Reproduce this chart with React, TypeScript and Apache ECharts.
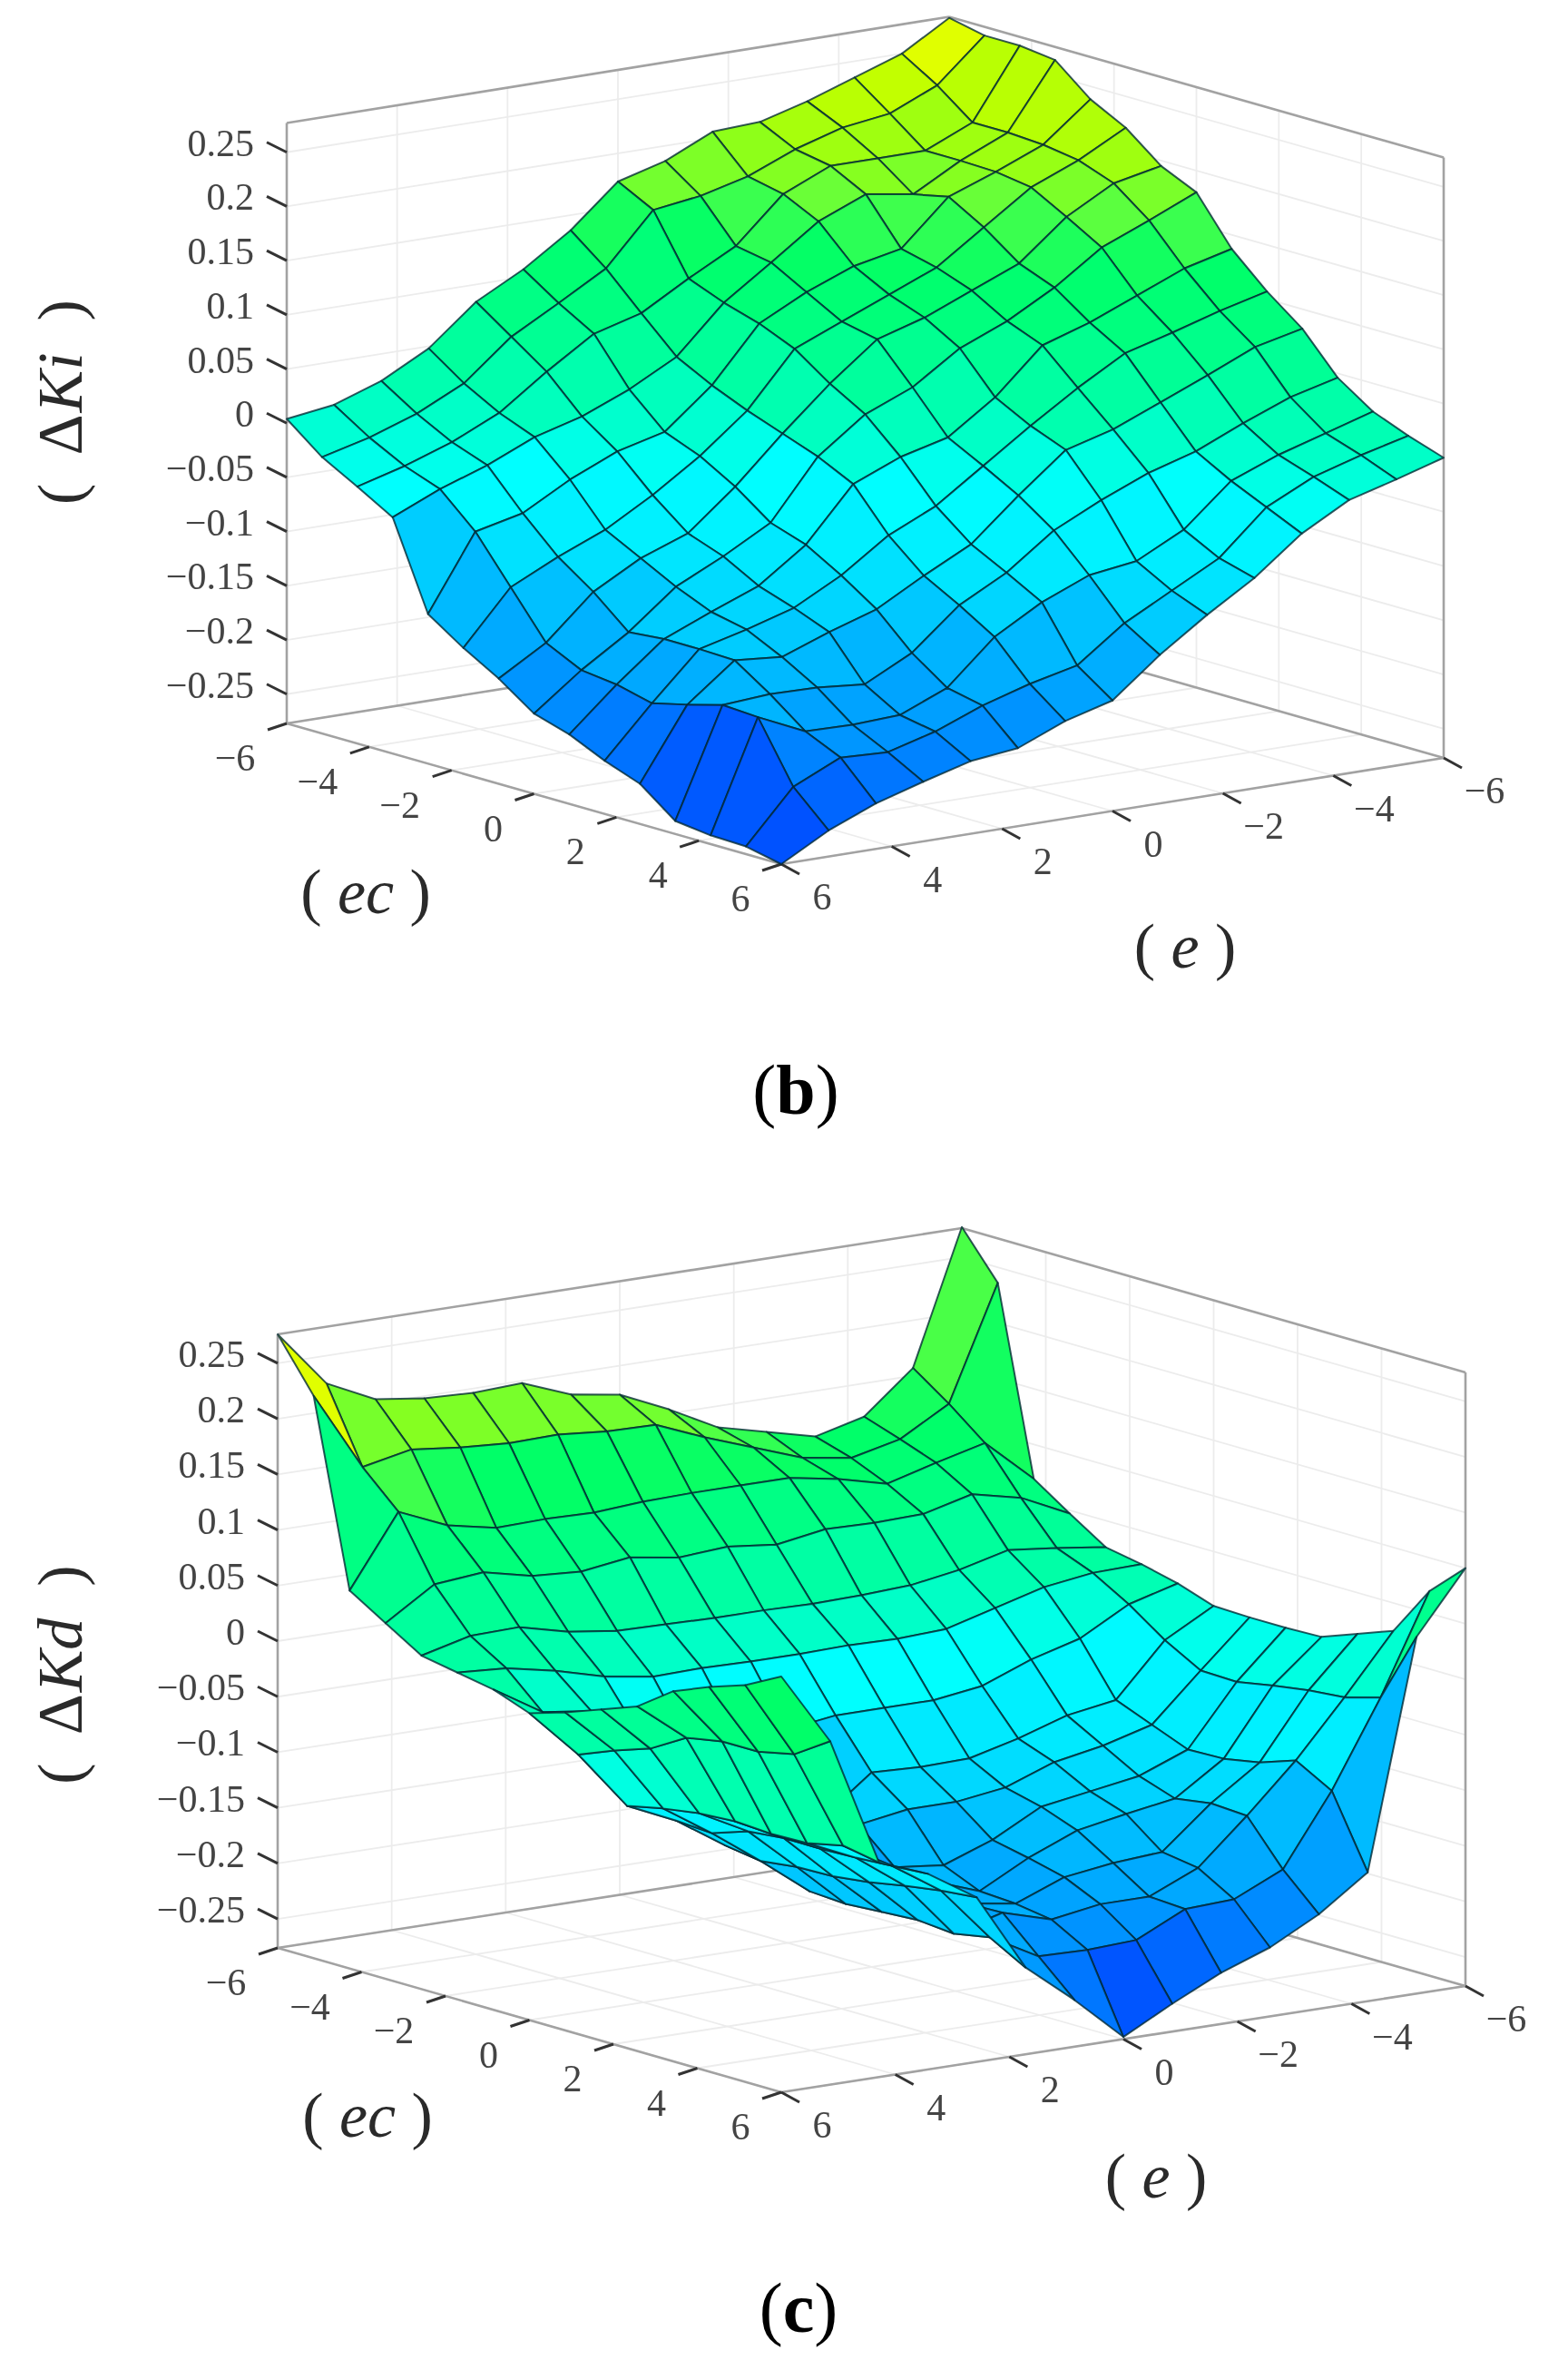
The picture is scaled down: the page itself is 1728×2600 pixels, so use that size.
import React, { useEffect, useRef } from "react";
import * as echarts from "echarts";

const GRID_SIZE = 15;
const AXIS_TICKS = [-6, -4, -2, 0, 2, 4, 6];
const Z_TICKS = [-0.25, -0.2, -0.15, -0.1, -0.05, 0, 0.05, 0.1, 0.15, 0.2, 0.25];

// Delta Ki, one line per e step (e = 6 ... -6), values along ec = -6 ... 6
const kiByE = [
  [0.004, -0.022, -0.04, -0.059, -0.139, -0.161, -0.18, -0.203, -0.213, -0.228, -0.24, -0.265, -0.269, -0.27, -0.277],
  [0.01, -0.011, -0.028, -0.04, -0.07, -0.112, -0.154, -0.17, -0.174, -0.182, -0.174, -0.165, -0.167, -0.222, -0.253],
  [0.025, 0.004, -0.013, -0.025, -0.06, -0.091, -0.114, -0.142, -0.139, -0.139, -0.14, -0.162, -0.187, -0.202, -0.235],
  [0.048, 0.025, 0.007, -0.006, -0.036, -0.073, -0.09, -0.107, -0.121, -0.128, -0.144, -0.163, -0.188, -0.204, -0.222],
  [0.084, 0.061, 0.038, 0.006, -0.017, -0.048, -0.074, -0.086, -0.104, -0.115, -0.128, -0.167, -0.186, -0.192, -0.21],
  [0.107, 0.085, 0.066, 0.024, -0.006, -0.019, -0.038, -0.062, -0.073, -0.092, -0.114, -0.145, -0.168, -0.175, -0.205],
  [0.136, 0.11, 0.078, 0.047, 0.03, 0.016, 0.004, -0.008, -0.024, -0.062, -0.09, -0.108, -0.128, -0.162, -0.187],
  [0.174, 0.157, 0.103, 0.09, 0.08, 0.066, 0.043, 0.024, -0.006, -0.042, -0.068, -0.085, -0.103, -0.152, -0.175],
  [0.186, 0.163, 0.126, 0.12, 0.102, 0.084, 0.077, 0.042, 0.005, -0.012, -0.03, -0.053, -0.085, -0.12, -0.14],
  [0.206, 0.174, 0.167, 0.151, 0.119, 0.102, 0.09, 0.071, 0.035, 0.018, 0.005, -0.032, -0.079, -0.097, -0.11],
  [0.208, 0.192, 0.186, 0.169, 0.128, 0.12, 0.108, 0.089, 0.076, 0.046, 0.017, -0.014, -0.057, -0.074, -0.083],
  [0.22, 0.205, 0.186, 0.162, 0.169, 0.15, 0.126, 0.113, 0.09, 0.071, 0.035, -0.001, -0.019, -0.034, -0.049],
  [0.235, 0.211, 0.186, 0.186, 0.185, 0.18, 0.162, 0.143, 0.108, 0.083, 0.053, 0.018, -0.002, -0.013, -0.025],
  [0.25, 0.23, 0.205, 0.205, 0.203, 0.198, 0.186, 0.161, 0.126, 0.096, 0.072, 0.035, 0.011, 0, -0.013],
  [0.276, 0.269, 0.269, 0.265, 0.238, 0.221, 0.195, 0.18, 0.137, 0.107, 0.082, 0.046, 0.024, 0.011, 0],
];

// Delta Kd, one line per ec step (ec = -6 ... 6), values along e = 6 ... -6
const kdByEc = [
  [0.276, 0.225, 0.204, 0.198, 0.196, 0.198, 0.181, 0.174, 0.154, 0.131, 0.12, 0.109, 0.12, 0.157, 0.277],
  [0.23, 0.159, 0.168, 0.163, 0.16, 0.161, 0.157, 0.156, 0.138, 0.122, 0.106, 0.099, 0.109, 0.134, 0.236],
  [0.064, 0.128, 0.109, 0.1, 0.101, 0.1, 0.103, 0.104, 0.104, 0.104, 0.096, 0.085, 0.097, 0.108, 0.069],
  [0.044, 0.072, 0.076, 0.066, 0.063, 0.069, 0.062, 0.065, 0.06, 0.067, 0.066, 0.067, 0.078, 0.068, 0.047],
  [0.024, 0.035, 0.036, 0.025, 0.019, 0.018, 0.017, 0.017, 0.016, 0.017, 0.019, 0.026, 0.037, 0.032, 0.026],
  [0.018, 0.015, 0.006, -0.006, -0.013, -0.012, -0.013, -0.013, -0.012, -0.013, -0.011, 0.001, 0.013, 0.019, 0.02],
  [0.012, -0.015, -0.021, -0.05, -0.064, -0.065, -0.065, -0.059, -0.059, -0.059, -0.053, -0.036, -0.024, 0, 0.012],
  [0, -0.044, -0.097, -0.117, -0.146, -0.172, -0.135, -0.101, -0.103, -0.102, -0.091, -0.077, -0.07, -0.023, 0.001],
  [0.01, -0.031, -0.09, -0.119, -0.151, -0.185, -0.132, -0.125, -0.125, -0.119, -0.103, -0.095, -0.083, -0.041, 0],
  [0.022, -0.02, -0.085, -0.108, -0.147, -0.187, -0.161, -0.166, -0.15, -0.127, -0.12, -0.113, -0.096, -0.042, 0],
  [0.034, -0.001, -0.083, -0.105, -0.146, -0.185, -0.164, -0.18, -0.157, -0.139, -0.131, -0.124, -0.095, -0.036, 0.001],
  [0.057, 0.005, -0.085, -0.105, -0.142, -0.183, -0.175, -0.182, -0.165, -0.159, -0.156, -0.119, -0.089, -0.031, 0.013],
  [0.07, 0.005, -0.084, -0.104, -0.136, -0.186, -0.174, -0.187, -0.18, -0.18, -0.161, -0.121, -0.078, -0.028, 0.025],
  [0.081, 0.012, -0.077, -0.102, -0.131, -0.18, -0.204, -0.205, -0.203, -0.182, -0.18, -0.16, -0.096, -0.019, 0.07],
  [0.098, 0.033, -0.083, -0.1, -0.128, -0.198, -0.234, -0.274, -0.251, -0.23, -0.214, -0.191, -0.16, 0.045, 0.1],
];

const colorStops = [
  [-0.28, [0, 80, 255]],
  [-0.25, [0, 104, 255]],
  [-0.2, [0, 152, 255]],
  [-0.15, [0, 196, 255]],
  [-0.1, [0, 236, 255]],
  [-0.06, [0, 255, 255]],
  [-0.03, [0, 255, 225]],
  [-0.013, [0, 255, 200]],
  [0, [0, 255, 180]],
  [0.02, [0, 255, 160]],
  [0.065, [0, 255, 130]],
  [0.1, [0, 255, 104]],
  [0.125, [56, 255, 80]],
  [0.15, [104, 255, 56]],
  [0.175, [144, 255, 24]],
  [0.21, [192, 255, 0]],
  [0.235, [232, 255, 0]],
  [0.28, [255, 255, 0]],
] as [number, number[]][];

function colorOf(z: number) {
  let k = 0;
  while (k < colorStops.length - 2 && z > colorStops[k + 1][0]) k++;
  const [z0, c0] = colorStops[k];
  const [z1, c1] = colorStops[k + 1];
  const t = Math.max(0, Math.min(1, (z - z0) / (z1 - z0)));
  const c = c0.map((v, n) => Math.round(v + (c1[n] - v) * t));
  return `rgb(${c[0]},${c[1]},${c[2]})`;
}

type View = {
  left: number[];
  back: number[];
  front: number[];
  zMin: number;
  zMax: number;
  zScale: number;
  values: (i: number, j: number) => number;
};

const viewB: View = {
  left: [316, 797],
  back: [1046, 680],
  front: [861, 952],
  zMin: -0.277,
  zMax: 0.277,
  zScale: 1194,
  values: (i, j) => kiByE[i][j],
};

const viewC: View = {
  left: [306, 2146],
  back: [1060, 2029],
  front: [861, 2305],
  zMin: -0.276,
  zMax: 0.276,
  zScale: 1224.6,
  values: (i, j) => kdByEc[j][i],
};

const N = GRID_SIZE - 1;

function project(v: View, i: number, j: number, z: number) {
  return [
    v.left[0] + (i / N) * (v.back[0] - v.left[0]) + (j / N) * (v.front[0] - v.left[0]),
    v.left[1] + (i / N) * (v.back[1] - v.left[1]) + (j / N) * (v.front[1] - v.left[1]) - (z - v.zMin) * v.zScale,
  ];
}

const iOfE = (e: number) => ((6 - e) / 12) * N;
const jOfEc = (ec: number) => ((ec + 6) / 12) * N;

function surfaceSeries(v: View) {
  const data: number[][] = [];
  for (let i = N - 1; i >= 0; i--) {
    for (let j = 0; j < N; j++) {
      data.push([i, j, v.values(i, j), v.values(i + 1, j), v.values(i + 1, j + 1), v.values(i, j + 1)]);
    }
  }
  return {
    type: "custom",
    coordinateSystem: "cartesian2d",
    silent: true,
    z: 5,
    clip: false,
    data,
    dimensions: ["i", "j", "a", "b", "c", "d"],
    encode: { x: 0, y: 1 },
    renderItem: (_: any, api: any) => {
      const i = api.value(0);
      const j = api.value(1);
      const d = api.value(5);
      const pts = [
        project(v, i, j, api.value(2)),
        project(v, i + 1, j, api.value(3)),
        project(v, i + 1, j + 1, api.value(4)),
        project(v, i, j + 1, d),
      ].map((p) => api.coord(p));
      return {
        type: "polygon",
        shape: { points: pts },
        style: { fill: colorOf(d), stroke: "rgba(0,40,50,0.78)", lineWidth: 2, lineJoin: "round" },
      };
    },
  };
}

function frameSeries(v: View) {
  // each segment: [i0, j0, z0, i1, j1, z1, kind]  kind 0 = grid, 1 = box, 2 = tick along x+, 3 = tick along x-, 4 = z tick
  const segs: number[][] = [];
  AXIS_TICKS.forEach((t) => {
    const i = iOfE(t);
    const j = jOfEc(t);
    segs.push([i, 0, v.zMin, i, 0, v.zMax, 0]);
    segs.push([N, j, v.zMin, N, j, v.zMax, 0]);
    segs.push([i, 0, v.zMin, i, N, v.zMin, 0]);
    segs.push([0, j, v.zMin, N, j, v.zMin, 0]);
  });
  Z_TICKS.forEach((z) => {
    segs.push([0, 0, z, N, 0, z, 0]);
    segs.push([N, 0, z, N, N, z, 0]);
  });
  const corners = [
    [0, 0],
    [N, 0],
    [N, N],
    [0, N],
  ];
  corners.forEach((c, k) => {
    const d = corners[(k + 1) % 4];
    segs.push([c[0], c[1], v.zMin, d[0], d[1], v.zMin, 1]);
  });
  segs.push([0, 0, v.zMin, 0, 0, v.zMax, 1]);
  segs.push([N, N, v.zMin, N, N, v.zMax, 1]);
  segs.push([0, 0, v.zMax, N, 0, v.zMax, 1]);
  segs.push([N, 0, v.zMax, N, N, v.zMax, 1]);
  AXIS_TICKS.forEach((t) => {
    segs.push([0, jOfEc(t), v.zMin, 0, jOfEc(t), v.zMin, 3]);
    segs.push([iOfE(t), N, v.zMin, iOfE(t), N, v.zMin, 2]);
  });
  Z_TICKS.forEach((z) => segs.push([0, 0, z, 0, 0, z, 4]));
  return {
    type: "custom",
    coordinateSystem: "cartesian2d",
    silent: true,
    z: 2,
    clip: false,
    data: segs,
    dimensions: ["i0", "j0", "z0", "i1", "j1", "z1", "k"],
    encode: { x: 0, y: 1 },
    renderItem: (_: any, api: any) => {
      const kind = api.value(6);
      const a = project(v, api.value(0), api.value(1), api.value(2));
      let b = project(v, api.value(3), api.value(4), api.value(5));
      if (kind === 2) b = [a[0] + 20, a[1] + 11];
      if (kind === 3) b = [a[0] - 21, a[1] + 7];
      if (kind === 4) b = [a[0] - 22, a[1] - 11];
      const p = api.coord(a);
      const q = api.coord(b);
      const style =
        kind === 0
          ? { stroke: "#ececec", lineWidth: 1.8 }
          : kind === 1
          ? { stroke: "#a2a2a2", lineWidth: 2.6 }
          : { stroke: "#333333", lineWidth: 3 };
      return {
        type: "line",
        shape: { x1: p[0], y1: p[1], x2: q[0], y2: q[1] },
        style,
      };
    },
  };
}

function fmt(t: number) {
  return t < 0 ? `\u2212${-t}` : `${t}`;
}

function labelSeries(v: View) {
  const labels: { text: string; at: number[]; align: string }[] = [];
  Z_TICKS.forEach((z) => {
    const p = project(v, 0, 0, z);
    labels.push({ text: fmt(z), at: [p[0] - 36, p[1] - 10], align: "right" });
  });
  AXIS_TICKS.forEach((t) => {
    const p = project(v, 0, jOfEc(t), v.zMin);
    labels.push({ text: fmt(t), at: [p[0] + (t < 0 ? -57 : -45), p[1] + 38], align: "center" });
    const q = project(v, iOfE(t), N, v.zMin);
    labels.push({ text: fmt(t), at: [q[0] + 45, q[1] + 36], align: "center" });
  });
  return {
    type: "custom",
    coordinateSystem: "cartesian2d",
    silent: true,
    z: 6,
    clip: false,
    data: labels.map((_, k) => [k, k]),
    encode: { x: 0, y: 1 },
    renderItem: (params: any, api: any) => {
      const l = labels[params.dataIndex];
      const p = api.coord(l.at);
      return {
        type: "text",
        x: p[0],
        y: p[1],
        style: {
          text: l.text,
          fill: "#444444",
          font: '42px "Liberation Serif"',
          align: l.align,
          verticalAlign: "middle",
        },
      };
    },
  };
}

const SERIF = '"Liberation Serif"';
const richTitle = {
  u: { fontFamily: SERIF, fontSize: 70, fill: "#2a2a2a", fontStyle: "normal" },
  i: { fontFamily: SERIF, fontSize: 70, fill: "#2a2a2a", fontStyle: "italic" },
};

function axisTitle(x: number, y: number, text: string, rotation = 0) {
  return {
    type: "text",
    x,
    y,
    rotation,
    silent: true,
    z: 10,
    style: { text, rich: richTitle, align: "center", verticalAlign: "middle" },
  };
}

const richPanel = {
  p: { fontFamily: SERIF, fontSize: 78, fill: "#000" },
  b: { fontFamily: SERIF, fontSize: 78, fill: "#000", fontWeight: "bold" },
};

function panelLabel(x: number, y: number, letter: string) {
  return {
    type: "text",
    x,
    y,
    silent: true,
    z: 10,
    style: { text: `{p|(}{b|${letter}}{p|)}`, rich: richPanel, align: "center", verticalAlign: "middle" },
  };
}

export default function App() {
  const ref = useRef<HTMLDivElement>(null);
  useEffect(() => {
    document.body.style.margin = "0";
    document.body.style.background = "#fff";
    const chart = echarts.init(ref.current as HTMLDivElement, undefined, { renderer: "svg" });
    chart.setOption({
      animation: false,
      backgroundColor: "#fff",
      grid: { left: 0, right: 0, top: 0, bottom: 0 },
      xAxis: { type: "value", min: 0, max: 1728, show: false },
      yAxis: { type: "value", min: 0, max: 2600, inverse: true, show: false },
      series: [
        frameSeries(viewB),
        surfaceSeries(viewB),
        labelSeries(viewB),
        frameSeries(viewC),
        surfaceSeries(viewC),
        labelSeries(viewC),
      ],
      graphic: [
        axisTitle(66, 444, "{u|(  \u0394}{i|Ki}{u|  )}", Math.PI / 2),
        axisTitle(403, 982, "{u|( }{i|ec}{u| )}"),
        axisTitle(1306, 1042, "{u|( }{i|e}{u| )}"),
        panelLabel(877, 1200, "b"),
        axisTitle(66, 1846, "{u|(  \u0394}{i|Kd}{u|  )}", Math.PI / 2),
        axisTitle(405, 2330, "{u|( }{i|ec}{u| )}"),
        axisTitle(1274, 2397, "{u|( }{i|e}{u| )}"),
        panelLabel(880, 2542, "c"),
      ],
    });
    return () => chart.dispose();
  }, []);
  return <div ref={ref} style={{ width: 1728, height: 2600, filter: "blur(0.5px)" }} />;
}
